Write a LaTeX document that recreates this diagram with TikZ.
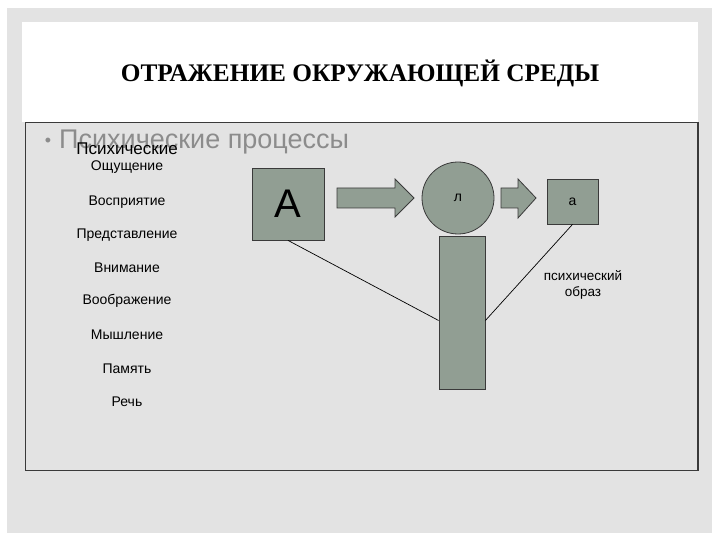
\documentclass[tikz,border=0pt]{standalone}
\usepackage{fontspec}
\setmainfont{Liberation Sans}
\newfontfamily\titlefont{Liberation Serif}
\definecolor{slidegray}{HTML}{E3E3E3}
\definecolor{shapefill}{HTML}{919E93}
\definecolor{shapeedge}{HTML}{3A3A3A}
\definecolor{bulletgray}{HTML}{8C8C8C}
\tikzset{
  shapebox/.style={draw=shapeedge,fill=shapefill,line width=0.8pt,inner sep=0pt},
  item/.style={font=\fontsize{14}{16}\selectfont,inner sep=0pt},
  wire/.style={draw=black,line width=0.7pt}
}
\begin{document}
\begin{tikzpicture}[x=1pt,y=-1pt]
	\useasboundingbox (0,0) rectangle (720,540);
	\fill[white] (0,0) rectangle (720,540);
	\fill[slidegray] (7,8) rectangle (712,533);
	\fill[white] (22,22) rectangle (698,122);
	\draw[shapeedge,line width=1.3pt] (25.5,122.5) rectangle (698,470.5);
	\node[inner sep=0pt] (title) at (360,73) {\titlefont\bfseries\fontsize{25.3}{28}\selectfont ОТРАЖЕНИЕ ОКРУЖАЮЩЕЙ СРЕДЫ};
	\node[text=bulletgray,inner sep=0pt] (dot) at (48,142) {\fontsize{18}{20}\selectfont •};
	\node[text=bulletgray,anchor=west,inner sep=0pt] (bullet) at (59,142) {\fontsize{27}{29}\selectfont Психические процессы};
	\node[inner sep=0pt] (head) at (127,149) {\fontsize{17}{19}\selectfont Психические};
	\node[item] (i1) at (127,167) {Ощущение};
	\node[item] (i2) at (127,202) {Восприятие};
	\node[item] (i3) at (127,235) {Представление};
	\node[item] (i4) at (127,268) {Внимание};
	\node[item] (i5) at (127,301) {Воображение};
	\node[item] (i6) at (127,335) {Мышление};
	\node[item] (i7) at (127,369) {Память};
	\node[item] (i8) at (127,402) {Речь};
	\node[shapebox,minimum width=72pt,minimum height=72pt,font=\fontsize{40}{42}\selectfont] (A) at (288,204) {A};
	\node[shapebox,circle,minimum size=72pt,font=\fontsize{14}{16}\selectfont] (L) at (458,198) {л};
	\node[shapebox,minimum width=51pt,minimum height=45pt,font=\fontsize{14}{16}\selectfont] (a) at (572.5,201.5) {а};
	\node[shapebox,minimum width=46pt,minimum height=153pt] (body) at (462,312.5) {};
	\filldraw[shapebox] (337,188)--(395,188)--(395,179)--(414,198)--(395,217)--(395,208)--(337,208)--cycle;
	\filldraw[shapebox] (501,188)--(518,188)--(518,179)--(536,198)--(518,218)--(518,208)--(501,208)--cycle;
	\draw[wire] (A.south)--([yshift=-8pt]body.west);
	\draw[wire] (a.south)--([yshift=-8pt]body.east);
	\node[align=center,inner sep=0pt,font=\fontsize{13.5}{16.5}\selectfont] (img) at (583,285) {психический\\образ};
\end{tikzpicture}
\end{document}
